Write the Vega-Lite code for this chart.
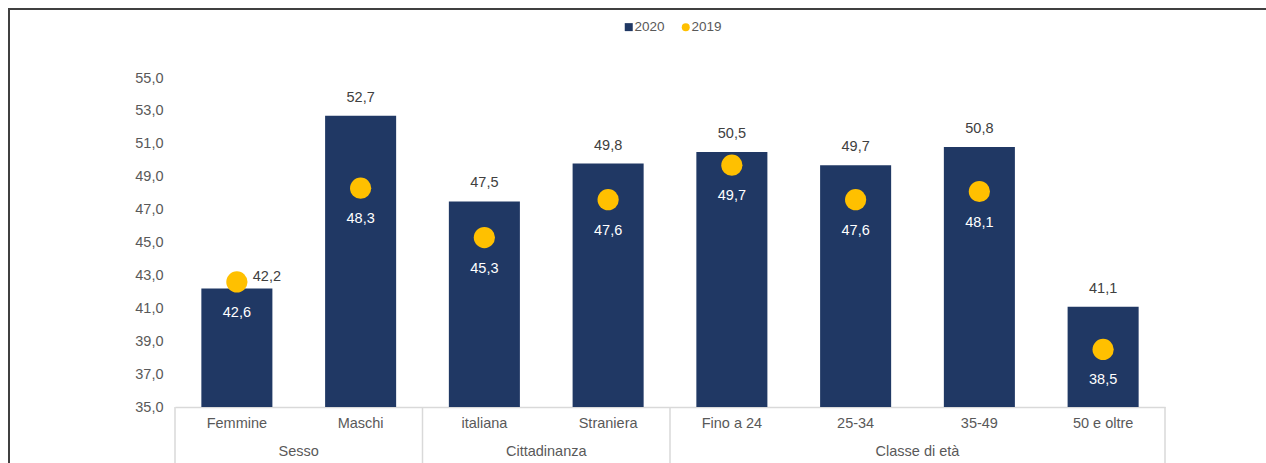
{
  "$schema": "https://vega.github.io/schema/vega-lite/v6.json",
  "width": 1270,
  "height": 460,
  "padding": {"left": 9, "top": 9, "right": 0, "bottom": 0},
  "background": "white",
  "config": {
    "font": "Liberation Sans",
    "locale": {"number": {"decimal": ",", "thousands": ".", "grouping": [3], "currency": ["€", ""]}},
    "view": {"stroke": "#404040", "strokeWidth": 2, "fill": "white"},
    "axis": {"grid": false, "ticks": false, "title": null, "labelFont": "Liberation Sans", "labelFontSize": 14.5, "labelColor": "#595959"}
  },
  "data": {
    "values": [
      {"cat": "Femmine", "gruppo": "Sesso", "anno": "2020", "valore": 42.2},
      {"cat": "Femmine", "gruppo": "Sesso", "anno": "2019", "valore": 42.6},
      {"cat": "Maschi", "gruppo": "Sesso", "anno": "2020", "valore": 52.7},
      {"cat": "Maschi", "gruppo": "Sesso", "anno": "2019", "valore": 48.3},
      {"cat": "italiana", "gruppo": "Cittadinanza", "anno": "2020", "valore": 47.5},
      {"cat": "italiana", "gruppo": "Cittadinanza", "anno": "2019", "valore": 45.3},
      {"cat": "Straniera", "gruppo": "Cittadinanza", "anno": "2020", "valore": 49.8},
      {"cat": "Straniera", "gruppo": "Cittadinanza", "anno": "2019", "valore": 47.6},
      {"cat": "Fino a 24", "gruppo": "Classe di età", "anno": "2020", "valore": 50.5},
      {"cat": "Fino a 24", "gruppo": "Classe di età", "anno": "2019", "valore": 49.7},
      {"cat": "25-34", "gruppo": "Classe di età", "anno": "2020", "valore": 49.7},
      {"cat": "25-34", "gruppo": "Classe di età", "anno": "2019", "valore": 47.6},
      {"cat": "35-49", "gruppo": "Classe di età", "anno": "2020", "valore": 50.8},
      {"cat": "35-49", "gruppo": "Classe di età", "anno": "2019", "valore": 48.1},
      {"cat": "50 e oltre", "gruppo": "Classe di età", "anno": "2020", "valore": 41.1},
      {"cat": "50 e oltre", "gruppo": "Classe di età", "anno": "2019", "valore": 38.5}
    ]
  },
  "encoding": {
    "x": {
      "field": "cat", "type": "nominal",
      "scale": {"domain": ["Femmine", "Maschi", "italiana", "Straniera", "Fino a 24", "25-34", "35-49", "50 e oltre"], "range": [166, 1156], "paddingInner": 0, "paddingOuter": 0},
      "axis": {"orient": "bottom", "offset": -62, "labelAngle": 0, "labelPadding": 9, "domainColor": "#d9d9d9", "domainWidth": 1.5}
    },
    "y": {
      "field": "valore", "type": "quantitative",
      "scale": {"domain": [35, 55], "range": [398, 69], "zero": false, "nice": false},
      "axis": {"orient": "left", "offset": -166, "domain": false, "values": [35, 37, 39, 41, 43, 45, 47, 49, 51, 53, 55], "format": ".1f", "labelPadding": 12}
    }
  },
  "layer": [
    {
      "transform": [{"filter": "datum.anno == '2020'"}],
      "mark": {"type": "bar", "width": {"band": 0.574}},
      "encoding": {
        "y2": {"datum": 35},
        "color": {"field": "anno", "type": "nominal", "scale": {"domain": ["2020", "2019"], "range": ["#203864", "#FFC000"]},
          "legend": {"orient": "none", "legendX": 613, "legendY": 11, "direction": "horizontal", "title": null, "labelFontSize": 13.5, "labelColor": "#595959", "symbolSize": 64, "columnPadding": 14, "labelOffset": -1, "symbolStrokeWidth": 0}}
      }
    },
    {
      "transform": [{"filter": "datum.anno == '2020' && datum.cat != 'Femmine'"}],
      "mark": {"type": "text", "baseline": "middle", "dy": -18, "fontSize": 14.5, "color": "#404040"},
      "encoding": {"text": {"field": "valore", "type": "quantitative", "format": ".1f"}}
    },
    {
      "transform": [{"filter": "datum.anno == '2020' && datum.cat == 'Femmine'"}],
      "mark": {"type": "text", "baseline": "middle", "dy": -12, "dx": 30, "fontSize": 14.5, "color": "#404040"},
      "encoding": {"text": {"field": "valore", "type": "quantitative", "format": ".1f"}}
    },
    {
      "transform": [{"filter": "datum.anno == '2019'"}],
      "mark": {"type": "point", "filled": true, "opacity": 1, "size": 450},
      "encoding": {
        "color": {"field": "anno", "type": "nominal"},
        "shape": {"field": "anno", "type": "nominal", "scale": {"domain": ["2020", "2019"], "range": ["square", "circle"]},
          "legend": {"orient": "none", "legendX": 613, "legendY": 11, "direction": "horizontal", "title": null, "labelFontSize": 13.5, "labelColor": "#595959", "symbolSize": 64, "columnPadding": 14, "labelOffset": -1, "symbolStrokeWidth": 0}}
      }
    },
    {
      "transform": [{"filter": "datum.anno == '2019'"}],
      "mark": {"type": "text", "baseline": "middle", "dy": 31, "fontSize": 14.5, "color": "white"},
      "encoding": {"text": {"field": "valore", "type": "quantitative", "format": ".1f"}}
    },
    {
      "transform": [{"filter": "datum.anno == '2020' && (datum.cat == 'Femmine' || datum.cat == 'italiana' || datum.cat == 'Fino a 24')"}],
      "mark": {"type": "rule", "color": "#d9d9d9", "strokeWidth": 1.5},
      "encoding": {
        "x": {"field": "cat", "type": "nominal", "bandPosition": 0},
        "y": {"datum": 35},
        "y2": {"datum": 31.4}
      }
    },
    {
      "transform": [{"filter": "datum.anno == '2020' && datum.cat == '50 e oltre'"}],
      "mark": {"type": "rule", "color": "#d9d9d9", "strokeWidth": 1.5},
      "encoding": {
        "x": {"field": "cat", "type": "nominal", "bandPosition": 1},
        "y": {"datum": 35},
        "y2": {"datum": 31.4}
      }
    },
    {
      "transform": [{"filter": "datum.anno == '2020' && (datum.cat == 'Femmine' || datum.cat == 'italiana' || datum.cat == '25-34')"}],
      "mark": {"type": "text", "baseline": "middle", "fontSize": 14.5, "color": "#595959"},
      "encoding": {
        "x": {"field": "cat", "type": "nominal", "bandPosition": 1},
        "y": {"datum": 32.26},
        "text": {"field": "gruppo", "type": "nominal"}
      }
    }
  ]
}
